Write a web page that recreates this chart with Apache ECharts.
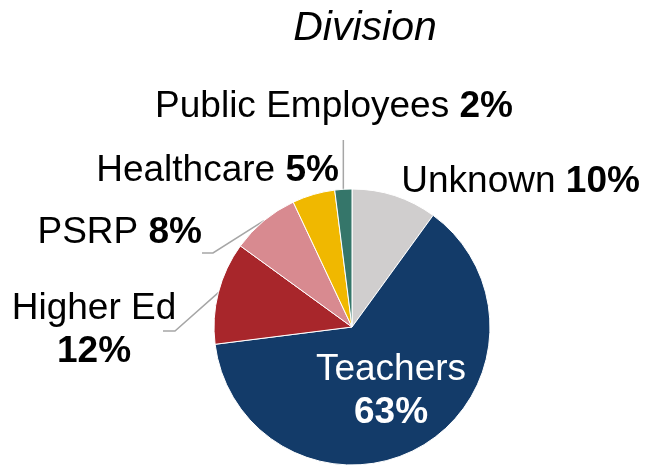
<!DOCTYPE html>
<html>
<head>
<meta charset="utf-8">
<script src="https://cdn.jsdelivr.net/npm/echarts@6/dist/echarts.min.js"></script>
<style>
  html, body { margin: 0; padding: 0; background: #fff; }
  #main { width: 651px; height: 467px; }
</style>
</head>
<body>
<div id="main"></div>
<script>
// data
var names = ["Unknown", "Teachers", "Higher Ed", "PSRP", "Healthcare", "Public Employees"];
var shares = [10, 63, 12, 8, 5, 2];
var colors = ["#D0CECE", "#133B69", "#A8262B", "#D88A90", "#F0B800", "#35766A"];
var twoLine = ["Teachers", "Higher Ed"]; // labels that wrap

var font = 'Arial, "Liberation Sans", sans-serif';

// where each label goes
var labelPos = {
  "Unknown":          { x: 408, y: 182, align: "left",   va: "middle" },
  "Teachers":         { x: 391, y: 391, align: "center", va: "middle" },
  "Higher Ed":        { x: 94,  y: 330, align: "center", va: "middle", line: [175, 331, 163] },
  "PSRP":             { x: 202, y: 233, align: "right",  va: "middle", line: [213, 253, 202] },
  "Healthcare":       { x: 328, y: 171, align: "right",  va: "middle" },
  "Public Employees": { x: 334, y: 107, align: "center", va: "middle", vline: 140 }
};

var chart = echarts.init(document.getElementById("main"));

var data = names.map(function (n, i) {
  var inside = n === "Teachers";
  return {
    name: n,
    value: shares[i],
    itemStyle: { color: colors[i] },
    label: {
      position: inside ? "inside" : "outside",
      color: inside ? "#fff" : "#000"
    },
    labelLine: { show: !!(labelPos[n].line || labelPos[n].vline) }
  };
});

chart.setOption({
  animation: false,
  title: {
    text: "Division",
    left: 360,
    top: 3,
    textAlign: "center",
    textStyle: { fontFamily: font, fontStyle: "italic", fontWeight: "normal", fontSize: 41, color: "#000" }
  },
  series: [
    {
      type: "pie",
      center: [352, 327],
      radius: 138,
      startAngle: 90,
      clockwise: true,
      data: data,
      itemStyle: { borderColor: "#fff", borderWidth: 1 },
      label: {
        fontFamily: font,
        fontSize: 37,
        lineHeight: 43,
        overflow: "none",
        formatter: function (p) {
          var sep = twoLine.indexOf(p.name) >= 0 ? "\n" : " ";
          return "{n|" + p.name + "}" + sep + "{b|" + p.value + "%}";
        },
        rich: {
          n: { fontFamily: font, fontSize: 37, lineHeight: 43, align: "center" },
          b: { fontFamily: font, fontSize: 37, lineHeight: 43, fontWeight: "bold", align: "center" }
        }
      },
      labelLine: {
        length: 20,
        length2: 10,
        lineStyle: { color: "#A6A6A6", width: 1.5 }
      },
      labelLayout: function (params) {
        var pos = labelPos[names[params.dataIndex]];
        var out = { x: pos.x, y: pos.y, align: pos.align, verticalAlign: pos.va };
        var pts = params.labelLinePoints;
        if (pts && pos.line) {
          out.labelLinePoints = [pts[0], [pos.line[0], pos.line[1]], [pos.line[2], pos.line[1]]];
        } else if (pts && pos.vline) {
          out.labelLinePoints = [pts[0], [pts[0][0], (pts[0][1] + pos.vline) / 2], [pts[0][0], pos.vline]];
        }
        return out;
      }
    }
  ]
});
</script>
</body>
</html>
